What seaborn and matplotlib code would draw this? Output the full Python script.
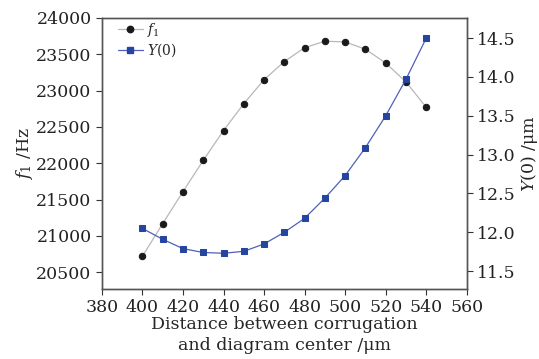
import matplotlib
matplotlib.use("Agg")
import matplotlib.pyplot as plt
import seaborn as sns
import pandas as pd
from matplotlib.lines import Line2D

distance = [400, 410, 420, 430, 440, 450, 460, 470, 480, 490, 500, 510, 520, 530, 540]
f1_hz = [20720, 21170, 21610, 22040, 22450, 22820, 23150, 23400, 23590, 23680, 23670, 23570, 23380, 23120, 22770]
y0_um = [12.05, 11.91, 11.79, 11.74, 11.73, 11.755, 11.85, 12.0, 12.18, 12.44, 12.73, 13.09, 13.5, 13.97, 14.5]

df = pd.DataFrame({"distance": distance, "f1": f1_hz, "y0": y0_um})

sns.set_theme(style="ticks")
plt.rcParams["font.family"] = ["DejaVu Serif"]
plt.rcParams["mathtext.fontset"] = "dejavuserif"

fig = plt.figure(figsize=(5.39, 3.59), dpi=100)
ax = fig.add_axes([0.189, 0.195, 0.677, 0.755])
ax2 = ax.twinx()

gray_line = "#b8b8b8"
blue = "#2545a0"
sns.lineplot(data=df, x="distance", y="f1", ax=ax, color=gray_line, linewidth=0.9,
             marker="o", markersize=4.6, markerfacecolor="#1a1a1a", markeredgecolor="#1a1a1a")
sns.lineplot(data=df, x="distance", y="y0", ax=ax2, color="#5060b8", linewidth=0.9,
             marker="s", markersize=4.0, markerfacecolor=blue, markeredgecolor=blue)

ax.set_xlim(380, 560)
ax.set_xticks(range(380, 561, 20))
ax.set_ylim(20270, 24000)
ax.set_yticks(range(20500, 24001, 500))
ax2.set_ylim(11.27, 14.76)
ax2.set_yticks([11.5, 12.0, 12.5, 13.0, 13.5, 14.0, 14.5])
ax2.set_yticklabels(["11.5", "12.0", "12.5", "13.0", "13.5", "14.0", "14.5"])

fs = 12.5
for a in (ax, ax2):
    a.tick_params(labelsize=fs, direction="out", length=4, width=0.8, colors="#333333", labelcolor="#222222")
    for s in a.spines.values():
        s.set_visible(True)
        s.set_color("#555555")
        s.set_linewidth(1.0)

ax.set_xlabel("Distance between corrugation\nand diagram center /μm", fontsize=fs, linespacing=1.25, labelpad=0)
ax.set_ylabel(r"$f_1$ /Hz", fontsize=fs, labelpad=1)
ax2.set_ylabel(r"$Y(0)$ /μm", fontsize=fs, labelpad=2)

handles = [
    Line2D([0], [0], color=gray_line, lw=0.9, marker="o", markersize=4.6, markerfacecolor="#1a1a1a", markeredgecolor="#1a1a1a"),
    Line2D([0], [0], color="#5060b8", lw=0.9, marker="s", markersize=4.0, markerfacecolor=blue, markeredgecolor=blue),
]
ax.legend(handles, [r"$f_1$", r"$Y(0)$"], loc="upper left", bbox_to_anchor=(0.02, 1.02), frameon=False, fontsize=10,
          handlelength=1.8, handletextpad=0.3, labelspacing=0.2, borderaxespad=0.2)

fig.savefig("out.png", dpi=100)
